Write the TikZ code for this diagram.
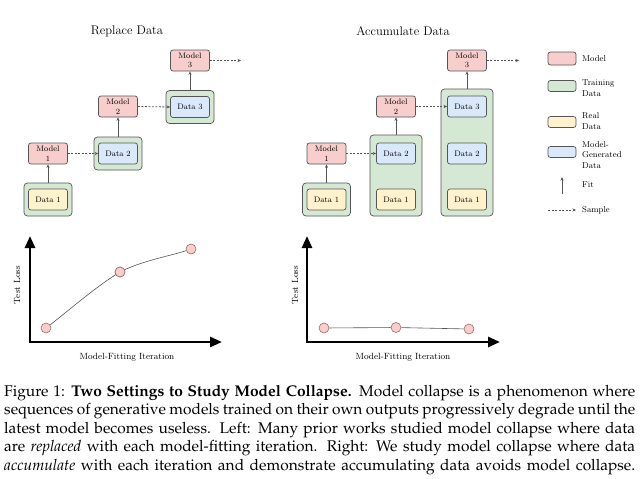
\documentclass[tikz,border=0pt]{standalone}
\usepackage[T1,TU]{fontenc}
\usepackage{fontspec}
\newfontfamily\libserif{Liberation Serif}
\usetikzlibrary{arrows.meta}
\definecolor{mfill}{HTML}{F8CECC}
\definecolor{tfill}{HTML}{D5E8D4}
\definecolor{rfill}{HTML}{FFF2CC}
\definecolor{gfill}{HTML}{DAE8FC}
\definecolor{bord}{HTML}{555555}
\definecolor{ptbord}{HTML}{9E6A68}
\IfFileExists{t1ppl.fd}
  {\newcommand\capf{\fontencoding{T1}\fontfamily{ppl}\fontsize{15.5}{18}\selectfont}}
  {\newcommand\capf{\libserif\fontsize{16.6}{18}\selectfont}}
\begin{document}
\begin{tikzpicture}[x=1pt,y=-1pt,
  box/.style={draw=bord, line width=0.7pt, rounded corners=2.5pt, inner sep=0pt, align=center, font=\fontsize{8}{9.5}\selectfont},
  mbox/.style={box, fill=mfill, minimum width=39pt, minimum height=21pt},
  rbox/.style={box, fill=rfill, minimum width=39pt, minimum height=21pt},
  gbox/.style={box, fill=gfill, minimum width=39pt, minimum height=21pt},
  tbox/.style={box, fill=tfill, minimum width=48pt, rounded corners=3.5pt},
  lbox/.style={box, minimum width=28pt, minimum height=11pt},
  lab/.style={anchor=west, inner sep=0pt, align=left, font=\fontsize{8.5}{10.5}\selectfont},
  fitarr/.style={draw=bord, line width=0.8pt, -{Stealth[length=3.5pt,width=3pt]}},
  samparr/.style={draw=bord, line width=0.8pt, dash pattern=on 2pt off 1.5pt, -{Stealth[length=3.5pt,width=3pt]}},
  axis/.style={line width=2.6pt, -{Triangle[width=10pt,length=12pt]}},
  pt/.style={circle, draw=ptbord, line width=0.6pt, fill=mfill, minimum size=10pt, inner sep=0pt},
  curve/.style={draw=bord, line width=0.6pt},
  axlab/.style={inner sep=0pt, font=\fontsize{9}{11}\selectfont},
  ttl/.style={inner sep=0pt, font=\fontsize{12.5}{14}\selectfont},
  capline/.style={anchor=base west, inner sep=0pt}]
\useasboundingbox[fill=white] (0,0) rectangle (640,479);

% ---------- Titles ----------
\node[ttl] (t1) at (127,31) {Replace Data};
\node[ttl] (t2) at (403,31) {Accumulate Data};

% ---------- Left: Replace Data ----------
\node[tbox, minimum height=33pt] (lg1) at (48,199.5) {};
\node[rbox] (ld1) at (48,199.5) {Data 1};
\node[mbox] (lm1) at (48,153.5) {Model\\1};
\node[tbox, minimum height=33pt] (lg2) at (118,153.5) {};
\node[gbox] (ld2) at (118,153.5) {Data 2};
\node[mbox] (lm2) at (118,106.5) {Model\\2};
\node[tbox, minimum height=33pt] (lg3) at (190,107) {};
\node[gbox] (ld3) at (190,107) {Data 3};
\node[mbox] (lm3) at (190,60.5) {Model\\3};
\coordinate (lend) at (241,60.5);

\draw[fitarr] (lg1.north) -- (lm1.south);
\draw[fitarr] (lg2.north) -- (lm2.south);
\draw[fitarr] (lg3.north) -- (lm3.south);
\draw[samparr] (lm1.east) -- (ld2.west);
\draw[samparr] (lm2.east) -- (ld3.west);
\draw[samparr] (lm3.east) -- (lend);

% ---------- Right: Accumulate Data ----------
\node[tbox, minimum height=33pt] (rg1) at (326.5,199.5) {};
\node[rbox] (rd11) at (326.5,199.5) {Data 1};
\node[mbox] (rm1) at (326.5,153.5) {Model\\1};

\node[tbox, minimum width=52pt, minimum height=81pt] (rg2) at (396,175.5) {};
\node[gbox] (rd22) at (396,153.5) {Data 2};
\node[rbox] (rd21) at (396,199.5) {Data 1};
\node[mbox] (rm2) at (396,106.5) {Model\\2};

\node[tbox, minimum width=52pt, minimum height=127pt] (rg3) at (467,152.5) {};
\node[gbox] (rd33) at (467,106.5) {Data 3};
\node[gbox] (rd32) at (467,153.5) {Data 2};
\node[rbox] (rd31) at (467,199.5) {Data 1};
\node[mbox] (rm3) at (467,60.5) {Model\\3};
\coordinate (rend) at (519,60.5);

\draw[fitarr] (rg1.north) -- (rm1.south);
\draw[fitarr] (rg2.north) -- (rm2.south);
\draw[fitarr] (rg3.north) -- (rm3.south);
\draw[samparr] (rm1.east) -- (rd22.west);
\draw[samparr] (rm2.east) -- (rd33.west);
\draw[samparr] (rm3.east) -- (rend);

% ---------- Legend ----------
\node[lbox, fill=mfill, minimum height=13pt] (lgm) at (562,58.5) {};
\node[lab] (lgmt) at (582,58.5) {Model};
\node[lbox, fill=tfill] (lgt) at (562,86) {};
\node[lab] (lgtt) at (582,88) {Training\\Data};
\node[lbox, fill=rfill] (lgr) at (562,122) {};
\node[lab] (lgrt) at (582,121) {Real\\Data};
\node[lbox, fill=gfill] (lgg) at (562,152) {};
\node[lab] (lggt) at (582,155) {Model-\\Generated\\Data};
\coordinate (ff0) at (562,194);
\coordinate (ff1) at (562,177);
\draw[fitarr] (ff0) -- (ff1);
\node[lab] (lgf) at (582,185) {Fit};
\coordinate (ss0) at (548,210);
\coordinate (ss1) at (576,210);
\draw[samparr] (ss0) -- (ss1);
\node[lab] (lgs) at (582,210) {Sample};

% ---------- Left plot ----------
\coordinate (lo) at (30,342);
\coordinate (lyt) at (30,236);
\coordinate (lxt) at (222,342);
\draw[axis] (lo) -- (lyt);
\draw[axis] ([xshift=-1.3pt]lo) -- (lxt);
\node[axlab, rotate=90] (lyl) at (17,285) {Test Loss};
\node[axlab] (lxl) at (127,357) {Model-Fitting Iteration};
\node[pt] (lp1) at (46,328) {};
\node[pt] (lp2) at (120,272) {};
\node[pt] (lp3) at (191,249) {};
\draw[curve] (lp1) .. controls (68,311) and (98,285) .. (lp2.center);
\draw[curve] (lp2.center) .. controls (141,261) and (170,256) .. (lp3);
\node[pt] (lp2b) at (120,272) {};

% ---------- Right plot ----------
\coordinate (ro) at (307,342);
\coordinate (ryt) at (307,236);
\coordinate (rxt) at (500,342);
\draw[axis] (ro) -- (ryt);
\draw[axis] ([xshift=-1.3pt]ro) -- (rxt);
\node[axlab, rotate=90] (ryl) at (295,285) {Test Loss};
\node[axlab] (rxl) at (403,357) {Model-Fitting Iteration};
\node[pt] (rp1) at (324,328) {};
\node[pt] (rp2) at (396,327.5) {};
\node[pt] (rp3) at (469,329) {};
\draw[curve] (rp1) -- (rp2) -- (rp3);

% ---------- Caption ----------
\node[capline] (c1) at (4,396) {\capf\makebox[631pt][s]{Figure 1: \textbf{Two Settings to Study Model Collapse.} Model collapse is a phenomenon where}};
\node[capline] (c2) at (4,414.5) {\capf\makebox[631pt][s]{sequences of generative models trained on their own outputs progressively degrade until the}};
\node[capline] (c3) at (4,433) {\capf\makebox[631pt][s]{latest model becomes useless. Left: Many prior works studied model collapse where data}};
\node[capline] (c4) at (4,451.5) {\capf\makebox[631pt][s]{are \textit{replaced} with each model-fitting iteration. Right: We study model collapse where data}};
\node[capline] (c5) at (4,470) {\capf\makebox[631pt][s]{\textit{accumulate} with each iteration and demonstrate accumulating data avoids model collapse.}};
\end{tikzpicture}
\end{document}
